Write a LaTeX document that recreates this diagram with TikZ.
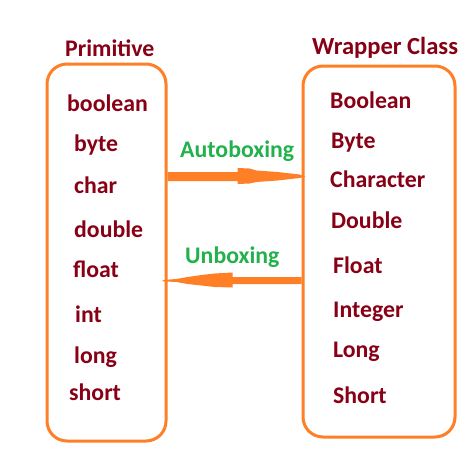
\documentclass[tikz,border=0pt]{standalone}
\usepackage{fontspec}
\setmainfont{Carlito}
\usepackage{tikz}

\definecolor{boxorange}{HTML}{FF7F27}
\definecolor{typered}{HTML}{880015}
\definecolor{boxgreen}{HTML}{22B14C}

\tikzset{
  box/.style={draw=boxorange,line width=3pt,rounded corners=20pt,inner sep=0pt},
  typename/.style={anchor=base west,inner sep=0pt,text=typered,font=\fontsize{23.8}{26}\selectfont\bfseries},
  boxlabel/.style={anchor=base west,inner sep=0pt,text=boxgreen,font=\fontsize{23.8}{26}\selectfont\bfseries},
  arrowfill/.style={fill=boxorange}
}

\begin{document}
\begin{tikzpicture}[x=1pt,y=-1pt]
\useasboundingbox (0,0) rectangle (462,467);
% Draw boxes
\node[box,minimum width=119pt,minimum height=377pt] (prim) at (106.5,252.5) {};
\node[box,minimum width=152pt,minimum height=371pt] (wrap) at (379,251.5) {};
% Draw headings
\node[typename] (primtitle) at (65,56) {Primitive};
\node[typename,font=\fontsize{24.6}{27}\selectfont\bfseries] (wraptitle) at (312,54) {Wrapper Class};
% Draw primitive types
\node[typename] (boolean) at (67,111) {boolean};
\node[typename] (byte) at (74,151) {byte};
\node[typename] (char) at (74,193) {char};
\node[typename] (double) at (74,237) {double};
\node[typename] (float) at (73,277) {float};
\node[typename] (int) at (75,322) {int};
\node[typename] (long) at (74,363) {long};
\node[typename] (short) at (69,400) {short};
% Draw wrapper classes
\node[typename] (Boolean) at (330,108) {Boolean};
\node[typename] (Byte) at (331,148) {Byte};
\node[typename] (Character) at (330,187) {Character};
\node[typename] (Double) at (331,228) {Double};
\node[typename] (Float) at (333,273) {Float};
\node[typename] (Integer) at (333,317) {Integer};
\node[typename] (Long) at (333,357) {Long};
\node[typename] (Short) at (333,403) {Short};
% Draw arrow labels
\node[boxlabel] (autobox) at (180,157) {Autoboxing};
\node[boxlabel] (unbox) at (185,263) {Unboxing};
% Draw autoboxing arrow
\coordinate (autostart) at (prim.east |- 0,176.5);
\fill[arrowfill] (autostart) +(0,-4.5) -- +(70,-4.5) -- +(70,-8.5) -- +(82,-8) -- +(89,-6)
  -- +(110,-4.5) -- +(132,-2) -- +(138,0) -- +(132,1.5) -- +(110,4) -- +(89,5.5)
  -- +(82,7) -- +(70,7.5) -- +(70,4.5) -- +(0,4.5) -- cycle;
% Draw unboxing arrow
\coordinate (unstart) at (wrap.west |- 0,280.5);
\fill[arrowfill] (unstart) +(0,-3.5) -- +(-69,-3.5) -- +(-69,-8) -- +(-87,-7) -- +(-100,-5.5)
  -- +(-114,-3.5) -- +(-125,-1.5) -- +(-139,-0.5) -- +(-139,0.8) -- +(-125,1.5)
  -- +(-114,3.5) -- +(-100,5) -- +(-87,6.5) -- +(-69,7) -- +(-69,3.5) -- +(0,3.5) -- cycle;
\end{tikzpicture}
\end{document}
